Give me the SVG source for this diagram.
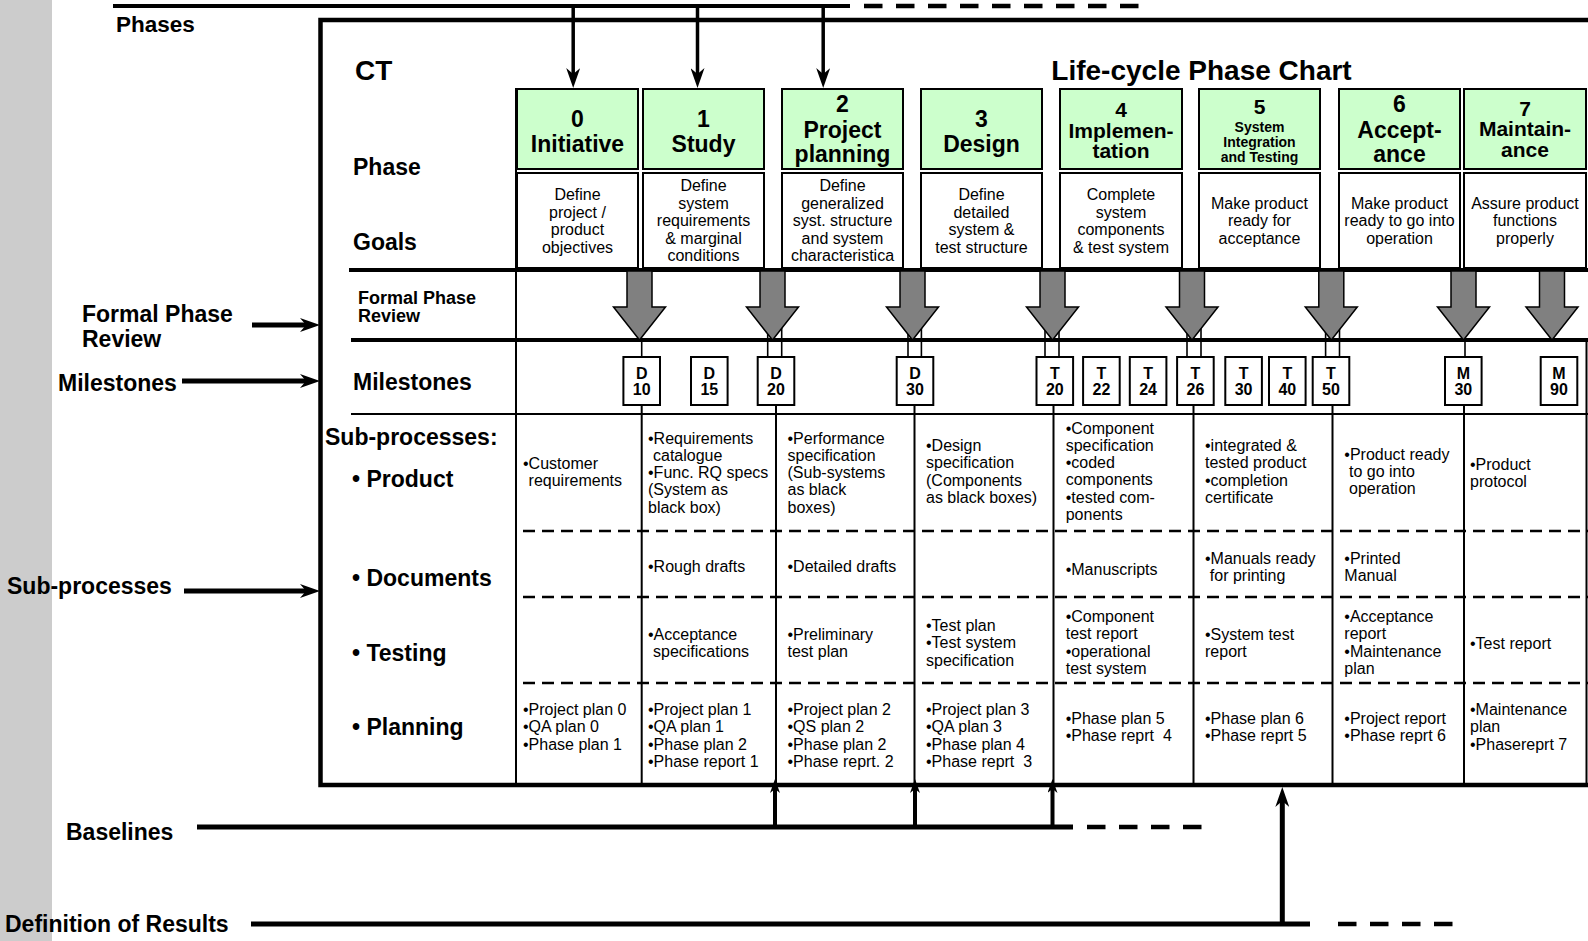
<svg xmlns="http://www.w3.org/2000/svg" width="1588" height="941" viewBox="0 0 1588 941">
<style>
  text { font-family: "Liberation Sans", Arial, sans-serif; fill: #000; }
  .lbl { font-size: 23px; font-weight: bold; }
  .title { font-size: 28px; font-weight: bold; }
  .fpr-lbl { font-size: 18px; font-weight: bold; }
  .ph { font-size: 23px; font-weight: bold; text-anchor: middle; }
  .ph21 { font-size: 21px; font-weight: bold; text-anchor: middle; }
  .ph14 { font-size: 14px; font-weight: bold; text-anchor: middle; }
  .goal { font-size: 16px; text-anchor: middle; }
  .cell { font-size: 16px; }
  .ms { font-size: 16px; font-weight: bold; text-anchor: middle; }
  .green { fill: #ccffcc; stroke: #000; stroke-width: 2; }
  .white { fill: #fff; stroke: #000; stroke-width: 2; }
  .review { fill: #808080; stroke: #000; stroke-width: 1.5; stroke-linejoin: miter; }
  .thick { stroke: #000; stroke-width: 4; fill: none; }
  .thin { stroke: #000; stroke-width: 2; fill: none; }
  .hair { stroke: #000; stroke-width: 1.6; fill: none; }
  .rowdash { stroke: #000; stroke-width: 2.5; stroke-dasharray: 12 7; fill: none; }
  .longdash { stroke: #000; stroke-width: 4.5; stroke-dasharray: 18.5 13.5; fill: none; }
  .arrow { stroke: #000; fill: none; }
</style>
<defs>
  <marker id="head" viewBox="0 0 20 14" refX="8" refY="7" markerWidth="20" markerHeight="14" markerUnits="userSpaceOnUse" orient="auto">
    <path d="M0,0 L20,7 L0,14 L6,7 z" fill="#000"/>
  </marker>
  <marker id="headSmall" viewBox="0 0 14 10" refX="6" refY="5" markerWidth="14" markerHeight="10" markerUnits="userSpaceOnUse" orient="auto">
    <path d="M0,0 L14,5 L0,10 L4,5 z" fill="#000"/>
  </marker>
</defs>

<!-- page margin strip -->
<rect x="0" y="0" width="52" height="941" fill="#cccccc"/>

<!-- outer labels -->
<g id="outer-labels">
  <text class="lbl" x="116" y="31.5" style="font-size:22.5px">Phases</text>
  <text class="lbl" x="82" y="322">Formal Phase</text>
  <text class="lbl" x="82" y="346.5">Review</text>
  <text class="lbl" x="58" y="390.5">Milestones</text>
  <text class="lbl" x="7" y="594">Sub-processes</text>
  <text class="lbl" x="66" y="839.5">Baselines</text>
  <text class="lbl" x="5" y="932">Definition of Results</text>
</g>

<!-- chart frame -->
<g id="frame">
  <path class="thick" d="M1588,20 H320.5 V785 H1588" style="stroke-width:4.5"/>
  <line class="thick" x1="349" y1="270" x2="1588" y2="270"/>
  <line class="thick" x1="351" y1="340" x2="1588" y2="340"/>
  <line class="thin" x1="351" y1="414" x2="1588" y2="414"/>
  <line class="thin" x1="516" y1="88" x2="516" y2="785"/>
  <line class="thin" x1="1586.5" y1="340" x2="1586.5" y2="785"/>
  <!-- sub-process row separators -->
  <line class="rowdash" x1="523" y1="531" x2="1588" y2="531"/>
  <line class="rowdash" x1="523" y1="597" x2="1588" y2="597"/>
  <line class="rowdash" x1="523" y1="683" x2="1588" y2="683"/>
  <!-- column dividers below milestones -->
  <line class="thin" x1="641.7" y1="405" x2="641.7" y2="785"/>
  <line class="thin" x1="776" y1="405" x2="776" y2="785"/>
  <line class="thin" x1="914.5" y1="405" x2="914.5" y2="785"/>
  <line class="thin" x1="1053.5" y1="405" x2="1053.5" y2="785"/>
  <line class="thin" x1="1193.5" y1="405" x2="1193.5" y2="785"/>
  <line class="thin" x1="1332.5" y1="405" x2="1332.5" y2="785"/>
  <line class="thin" x1="1464" y1="405" x2="1464" y2="785"/>
</g>

<!-- row headings -->
<g id="row-labels">
  <text class="title" x="355" y="80">CT</text>
  <text class="title" x="1201.5" y="80" text-anchor="middle">Life-cycle Phase Chart</text>
  <text class="lbl" x="353" y="175">Phase</text>
  <text class="lbl" x="353" y="250">Goals</text>
  <text class="fpr-lbl" x="358" y="304">Formal Phase</text>
  <text class="fpr-lbl" x="358" y="321.5">Review</text>
  <text class="lbl" x="353" y="389.5">Milestones</text>
  <text class="lbl" x="325" y="445">Sub-processes:</text>
  <text class="lbl" x="352" y="487">• Product</text>
  <text class="lbl" x="352" y="585.5">• Documents</text>
  <text class="lbl" x="352" y="660.5">• Testing</text>
  <text class="lbl" x="352" y="735">• Planning</text>
</g>

<!-- phases -->
<g id="phase-0">
  <rect class="green" x="517" y="89" width="121" height="80"/>
  <text class="ph" x="577.5" y="126.7">0</text>
  <text class="ph" x="577.5" y="151.7">Initiative</text>
  <rect class="white" x="517" y="173" width="121" height="95"/>
  <text class="goal"><tspan x="577.5" y="200">Define</tspan><tspan x="577.5" y="217.5">project /</tspan><tspan x="577.5" y="235">product</tspan><tspan x="577.5" y="252.5">objectives</tspan></text>
</g>
<g id="phase-1">
  <rect class="green" x="643" y="89" width="121" height="80"/>
  <text class="ph" x="703.5" y="126.7">1</text>
  <text class="ph" x="703.5" y="151.7">Study</text>
  <rect class="white" x="643" y="173" width="121" height="95"/>
  <text class="goal"><tspan x="703.5" y="191">Define</tspan><tspan x="703.5" y="208.5">system</tspan><tspan x="703.5" y="226">requirements</tspan><tspan x="703.5" y="243.5">&amp; marginal</tspan><tspan x="703.5" y="261">conditions</tspan></text>
</g>
<g id="phase-2">
  <rect class="green" x="782" y="89" width="121" height="80"/>
  <text class="ph" x="842.5" y="111.7">2</text>
  <text class="ph" x="842.5" y="137.5">Project</text>
  <text class="ph" x="842.5" y="161.5">planning</text>
  <rect class="white" x="782" y="173" width="121" height="95"/>
  <text class="goal"><tspan x="842.5" y="191">Define</tspan><tspan x="842.5" y="208.5">generalized</tspan><tspan x="842.5" y="226">syst. structure</tspan><tspan x="842.5" y="243.5">and system</tspan><tspan x="842.5" y="261">characteristica</tspan></text>
</g>
<g id="phase-3">
  <rect class="green" x="921" y="89" width="121" height="80"/>
  <text class="ph" x="981.5" y="126.7">3</text>
  <text class="ph" x="981.5" y="151.7">Design</text>
  <rect class="white" x="921" y="173" width="121" height="95"/>
  <text class="goal"><tspan x="981.5" y="200">Define</tspan><tspan x="981.5" y="217.5">detailed</tspan><tspan x="981.5" y="235">system &amp;</tspan><tspan x="981.5" y="252.5">test structure</tspan></text>
</g>
<g id="phase-4">
  <rect class="green" x="1060" y="89" width="122" height="80"/>
  <text class="ph21" x="1121" y="116.7">4</text>
  <text class="ph21" x="1121" y="137.7">Implemen-</text>
  <text class="ph21" x="1121" y="157.7">tation</text>
  <rect class="white" x="1060" y="173" width="122" height="95"/>
  <text class="goal"><tspan x="1121" y="200">Complete</tspan><tspan x="1121" y="217.5">system</tspan><tspan x="1121" y="235">components</tspan><tspan x="1121" y="252.5">&amp; test system</tspan></text>
</g>
<g id="phase-5">
  <rect class="green" x="1199" y="89" width="121" height="80"/>
  <text class="ph21" x="1259.5" y="114.3">5</text>
  <text class="ph14" x="1259.5" y="132">System</text>
  <text class="ph14" x="1259.5" y="146.7">Integration</text>
  <text class="ph14" x="1259.5" y="161.5">and Testing</text>
  <rect class="white" x="1199" y="173" width="121" height="95"/>
  <text class="goal"><tspan x="1259.5" y="208.5">Make product</tspan><tspan x="1259.5" y="226">ready for</tspan><tspan x="1259.5" y="243.5">acceptance</tspan></text>
</g>
<g id="phase-6">
  <rect class="green" x="1339" y="89" width="121" height="80"/>
  <text class="ph" x="1399.5" y="112.3">6</text>
  <text class="ph" x="1399.5" y="138.3">Accept-</text>
  <text class="ph" x="1399.5" y="161.5">ance</text>
  <rect class="white" x="1339" y="173" width="121" height="95"/>
  <text class="goal"><tspan x="1399.5" y="208.5">Make product</tspan><tspan x="1399.5" y="226">ready to go into</tspan><tspan x="1399.5" y="243.5">operation</tspan></text>
</g>
<g id="phase-7">
  <rect class="green" x="1464" y="89" width="122" height="80"/>
  <text class="ph21" x="1525" y="115.7">7</text>
  <text class="ph21" x="1525" y="136">Maintain-</text>
  <text class="ph21" x="1525" y="156.7">ance</text>
  <rect class="white" x="1464" y="173" width="122" height="95"/>
  <text class="goal"><tspan x="1525" y="208.5">Assure product</tspan><tspan x="1525" y="226">functions</tspan><tspan x="1525" y="243.5">properly</tspan></text>
</g>

<!-- connectors -->
<g id="connectors">
  <!-- phases feed line -->
  <line class="thick" x1="113" y1="6" x2="850" y2="6"/>
  <line class="longdash" x1="864" y1="6" x2="1143" y2="6"/>
  <line class="arrow" stroke-width="3.5" x1="573.2" y1="6" x2="573.2" y2="76" marker-end="url(#head)"/>
  <line class="arrow" stroke-width="3.5" x1="697.5" y1="6" x2="697.5" y2="76" marker-end="url(#head)"/>
  <line class="arrow" stroke-width="3.5" x1="823.2" y1="6" x2="823.2" y2="76" marker-end="url(#head)"/>
  <!-- side pointers into the chart -->
  <line class="arrow" stroke-width="5" x1="252" y1="325" x2="308" y2="325" marker-end="url(#head)"/>
  <line class="arrow" stroke-width="5" x1="182" y1="381" x2="308" y2="381" marker-end="url(#head)"/>
  <line class="arrow" stroke-width="5" x1="184" y1="591" x2="308" y2="591" marker-end="url(#head)"/>
  <!-- baselines -->
  <line class="arrow" stroke-width="5" x1="197" y1="827" x2="1073" y2="827"/>
  <line class="longdash" x1="1087" y1="827" x2="1205" y2="827"/>
  <line class="arrow" stroke-width="4" x1="775" y1="827" x2="775" y2="787" marker-end="url(#headSmall)"/>
  <line class="arrow" stroke-width="4" x1="915" y1="827" x2="915" y2="787" marker-end="url(#headSmall)"/>
  <line class="arrow" stroke-width="4" x1="1052.5" y1="827" x2="1052.5" y2="787" marker-end="url(#headSmall)"/>
  <!-- definition of results -->
  <line class="arrow" stroke-width="5" x1="251" y1="924" x2="1310" y2="924"/>
  <line class="longdash" x1="1338" y1="924" x2="1454" y2="924"/>
  <line class="arrow" stroke-width="5" x1="1282.3" y1="924" x2="1282.3" y2="799" marker-end="url(#head)"/>
  <!-- review-to-milestone ties -->
  <line class="hair" x1="641.7" y1="338" x2="641.7" y2="357"/>
  <line class="hair" x1="767.7" y1="315" x2="767.7" y2="357"/>
  <line class="hair" x1="781.7" y1="315" x2="781.7" y2="357"/>
  <line class="hair" x1="908" y1="315" x2="908" y2="357"/>
  <line class="hair" x1="921.4" y1="315" x2="921.4" y2="357"/>
  <line class="hair" x1="1045" y1="315" x2="1045" y2="357"/>
  <line class="hair" x1="1059" y1="315" x2="1059" y2="357"/>
  <line class="hair" x1="1187" y1="315" x2="1187" y2="357"/>
  <line class="hair" x1="1201" y1="315" x2="1201" y2="357"/>
  <line class="hair" x1="1325.6" y1="315" x2="1325.6" y2="357"/>
  <line class="hair" x1="1339.5" y1="315" x2="1339.5" y2="357"/>
  <line class="hair" x1="1465" y1="338" x2="1465" y2="357"/>
</g>

<!-- formal phase reviews -->
<g id="reviews">
  <polygon class="review" points="627,271 652,271 652,307 665.5,307 639.5,340 613.5,307 627,307"/>
  <polygon class="review" points="760,271 785,271 785,307 798.5,307 772.5,340 746.5,307 760,307"/>
  <polygon class="review" points="900,271 925,271 925,307 938.5,307 912.5,340 886.5,307 900,307"/>
  <polygon class="review" points="1040,271 1065,271 1065,307 1078.5,307 1052.5,340 1026.5,307 1040,307"/>
  <polygon class="review" points="1179.5,271 1204.5,271 1204.5,307 1218,307 1192,340 1166,307 1179.5,307"/>
  <polygon class="review" points="1318.8,271 1343.8,271 1343.8,307 1357.3,307 1331.3,340 1305.3,307 1318.8,307"/>
  <polygon class="review" points="1451,271 1476,271 1476,307 1489.5,307 1463.5,340 1437.5,307 1451,307"/>
  <polygon class="review" points="1539.5,271 1564.5,271 1564.5,307 1578,307 1552,340 1526,307 1539.5,307"/>
</g>

<!-- milestones -->
<g id="milestones">
  <g id="ms-D10"><rect class="white" x="623.4" y="357" width="36.6" height="48"/><text class="ms"><tspan x="641.7" y="378.5">D</tspan><tspan x="641.7" y="395">10</tspan></text></g>
  <g id="ms-D15"><rect class="white" x="691" y="357" width="36.6" height="48"/><text class="ms"><tspan x="709.3" y="378.5">D</tspan><tspan x="709.3" y="395">15</tspan></text></g>
  <g id="ms-D20"><rect class="white" x="757.7" y="357" width="36.6" height="48"/><text class="ms"><tspan x="776" y="378.5">D</tspan><tspan x="776" y="395">20</tspan></text></g>
  <g id="ms-D30"><rect class="white" x="896.7" y="357" width="36.6" height="48"/><text class="ms"><tspan x="915" y="378.5">D</tspan><tspan x="915" y="395">30</tspan></text></g>
  <g id="ms-T20"><rect class="white" x="1036.5" y="357" width="36.6" height="48"/><text class="ms"><tspan x="1054.8" y="378.5">T</tspan><tspan x="1054.8" y="395">20</tspan></text></g>
  <g id="ms-T22"><rect class="white" x="1083.1" y="357" width="36.6" height="48"/><text class="ms"><tspan x="1101.4" y="378.5">T</tspan><tspan x="1101.4" y="395">22</tspan></text></g>
  <g id="ms-T24"><rect class="white" x="1129.8" y="357" width="36.6" height="48"/><text class="ms"><tspan x="1148.1" y="378.5">T</tspan><tspan x="1148.1" y="395">24</tspan></text></g>
  <g id="ms-T26"><rect class="white" x="1177.1" y="357" width="36.6" height="48"/><text class="ms"><tspan x="1195.4" y="378.5">T</tspan><tspan x="1195.4" y="395">26</tspan></text></g>
  <g id="ms-T30"><rect class="white" x="1225.3" y="357" width="36.6" height="48"/><text class="ms"><tspan x="1243.6" y="378.5">T</tspan><tspan x="1243.6" y="395">30</tspan></text></g>
  <g id="ms-T40"><rect class="white" x="1269" y="357" width="36.6" height="48"/><text class="ms"><tspan x="1287.3" y="378.5">T</tspan><tspan x="1287.3" y="395">40</tspan></text></g>
  <g id="ms-T50"><rect class="white" x="1312.7" y="357" width="36.6" height="48"/><text class="ms"><tspan x="1331" y="378.5">T</tspan><tspan x="1331" y="395">50</tspan></text></g>
  <g id="ms-M30"><rect class="white" x="1445" y="357" width="36.6" height="48"/><text class="ms"><tspan x="1463.3" y="378.5">M</tspan><tspan x="1463.3" y="395">30</tspan></text></g>
  <g id="ms-M90"><rect class="white" x="1540.7" y="357" width="36.6" height="48"/><text class="ms"><tspan x="1559" y="378.5">M</tspan><tspan x="1559" y="395">90</tspan></text></g>
</g>

<!-- sub-process results -->
<g id="results-product">
  <text class="cell"><tspan x="523" y="468.5">•Customer</tspan><tspan x="528.6" y="485.8">requirements</tspan></text>
  <text class="cell"><tspan x="648" y="443.5">•Requirements</tspan><tspan x="653" y="460.8">catalogue</tspan><tspan x="648" y="478.1">•Func. RQ specs</tspan><tspan x="648" y="495.4">(System as</tspan><tspan x="648" y="512.7">black box)</tspan></text>
  <text class="cell"><tspan x="787.5" y="443.5">•Performance</tspan><tspan x="787.5" y="460.8">specification</tspan><tspan x="787.5" y="478.1">(Sub-systems</tspan><tspan x="787.5" y="495.4">as black</tspan><tspan x="787.5" y="512.7">boxes)</tspan></text>
  <text class="cell"><tspan x="926" y="451">•Design</tspan><tspan x="926" y="468.3">specification</tspan><tspan x="926" y="485.6">(Components</tspan><tspan x="926" y="502.9">as black boxes)</tspan></text>
  <text class="cell"><tspan x="1065.7" y="433.5">•Component</tspan><tspan x="1065.7" y="450.8">specification</tspan><tspan x="1065.7" y="468.1">•coded</tspan><tspan x="1065.7" y="485.4">components</tspan><tspan x="1065.7" y="502.7">•tested com-</tspan><tspan x="1065.7" y="520">ponents</tspan></text>
  <text class="cell"><tspan x="1205" y="451">•integrated &amp;</tspan><tspan x="1205" y="468.3">tested product</tspan><tspan x="1205" y="485.6">•completion</tspan><tspan x="1205" y="502.9">certificate</tspan></text>
  <text class="cell"><tspan x="1344.3" y="459.5">•Product ready</tspan><tspan x="1349" y="476.8">to go into</tspan><tspan x="1349" y="494.1">operation</tspan></text>
  <text class="cell"><tspan x="1470" y="469.5">•Product</tspan><tspan x="1470" y="486.8">protocol</tspan></text>
</g>
<g id="results-documents">
  <text class="cell" x="648" y="571.7">•Rough drafts</text>
  <text class="cell" x="787.5" y="571.7">•Detailed drafts</text>
  <text class="cell" x="1065.7" y="575">•Manuscripts</text>
  <text class="cell"><tspan x="1205" y="564">•Manuals ready</tspan><tspan x="1209.8" y="581.3">for printing</tspan></text>
  <text class="cell"><tspan x="1344.3" y="564">•Printed</tspan><tspan x="1344.3" y="581.3">Manual</tspan></text>
</g>
<g id="results-testing">
  <text class="cell"><tspan x="648" y="640">•Acceptance</tspan><tspan x="653" y="657.3">specifications</tspan></text>
  <text class="cell"><tspan x="787.5" y="640">•Preliminary</tspan><tspan x="787.5" y="657.3">test plan</tspan></text>
  <text class="cell"><tspan x="926" y="631">•Test plan</tspan><tspan x="926" y="648.3">•Test system</tspan><tspan x="926" y="665.6">specification</tspan></text>
  <text class="cell"><tspan x="1065.7" y="622">•Component</tspan><tspan x="1065.7" y="639.3">test report</tspan><tspan x="1065.7" y="656.6">•operational</tspan><tspan x="1065.7" y="673.9">test system</tspan></text>
  <text class="cell"><tspan x="1205" y="640">•System test</tspan><tspan x="1205" y="657.3">report</tspan></text>
  <text class="cell"><tspan x="1344.3" y="622">•Acceptance</tspan><tspan x="1344.3" y="639.3">report</tspan><tspan x="1344.3" y="656.6">•Maintenance</tspan><tspan x="1344.3" y="673.9">plan</tspan></text>
  <text class="cell" x="1470" y="648.5">•Test report</text>
</g>
<g id="results-planning">
  <text class="cell"><tspan x="523" y="715">•Project plan 0</tspan><tspan x="523" y="732.3">•QA plan 0</tspan><tspan x="523" y="749.6">•Phase plan 1</tspan></text>
  <text class="cell"><tspan x="648" y="715">•Project plan 1</tspan><tspan x="648" y="732.3">•QA plan 1</tspan><tspan x="648" y="749.6">•Phase plan 2</tspan><tspan x="648" y="766.9">•Phase report 1</tspan></text>
  <text class="cell"><tspan x="787.5" y="715">•Project plan 2</tspan><tspan x="787.5" y="732.3">•QS plan 2</tspan><tspan x="787.5" y="749.6">•Phase plan 2</tspan><tspan x="787.5" y="766.9">•Phase reprt. 2</tspan></text>
  <text class="cell" xml:space="preserve"><tspan x="926" y="715">•Project plan 3</tspan><tspan x="926" y="732.3">•QA plan 3</tspan><tspan x="926" y="749.6">•Phase plan 4</tspan><tspan x="926" y="766.9">•Phase reprt  3</tspan></text>
  <text class="cell" xml:space="preserve"><tspan x="1065.7" y="724">•Phase plan 5</tspan><tspan x="1065.7" y="741.3">•Phase reprt  4</tspan></text>
  <text class="cell"><tspan x="1205" y="724">•Phase plan 6</tspan><tspan x="1205" y="741.3">•Phase reprt 5</tspan></text>
  <text class="cell"><tspan x="1344.3" y="724">•Project report</tspan><tspan x="1344.3" y="741.3">•Phase reprt 6</tspan></text>
  <text class="cell"><tspan x="1470" y="715">•Maintenance</tspan><tspan x="1470" y="732.3">plan</tspan><tspan x="1470" y="749.6">•Phasereprt 7</tspan></text>
</g>
</svg>
